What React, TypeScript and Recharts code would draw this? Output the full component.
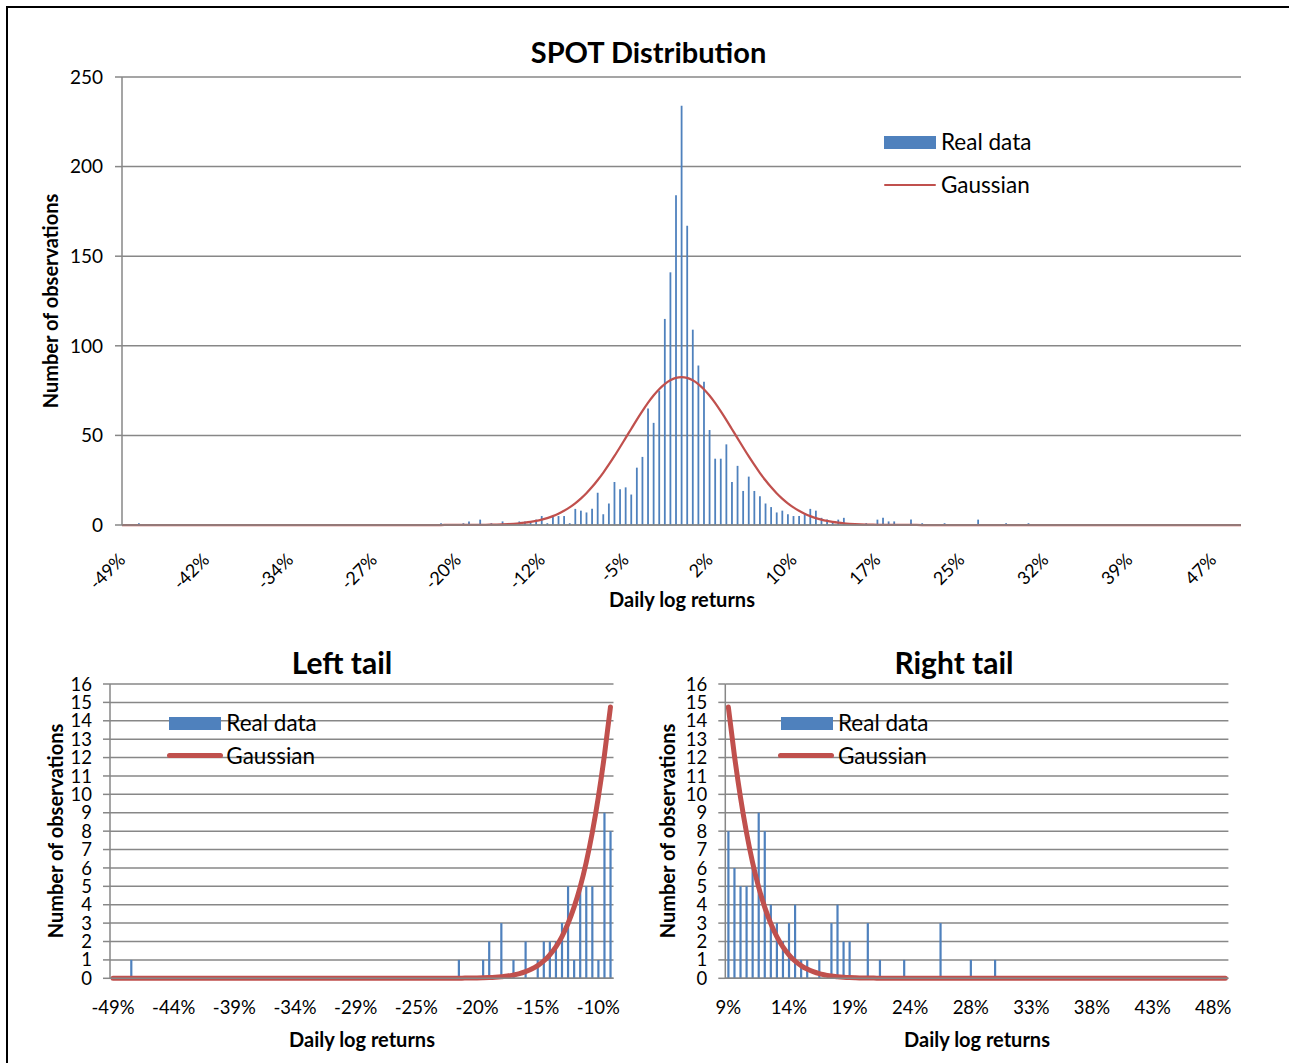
import React from 'react';
import { ComposedChart, Bar, Line, XAxis, YAxis, CartesianGrid, Legend } from 'recharts';

// ---------- data ----------
const mainTickLabels = ['-49%', '-42%', '-34%', '-27%', '-20%', '-12%', '-5%', '2%', '10%', '17%', '25%', '32%', '39%', '47%'];
const leftTickLabels = ['-49%', '-44%', '-39%', '-34%', '-29%', '-25%', '-20%', '-15%', '-10%'];
const rightTickLabels = ['9%', '14%', '19%', '24%', '28%', '33%', '38%', '43%', '48%'];
const mainYTicks = [0, 50, 100, 150, 200, 250];
const tailYTicks = [0, 1, 2, 3, 4, 5, 6, 7, 8, 9, 10, 11, 12, 13, 14, 15, 16];
const seriesNames = ['Real data', 'Gaussian'];

// histogram counts per bin (201 bins)
const realData = [
  0, 0, 0, 1, 0, 0, 0, 0, 0, 0,
  0, 0, 0, 0, 0, 0, 0, 0, 0, 0,
  0, 0, 0, 0, 0, 0, 0, 0, 0, 0,
  0, 0, 0, 0, 0, 0, 0, 0, 0, 0,
  0, 0, 0, 0, 0, 0, 0, 0, 0, 0,
  0, 0, 0, 0, 0, 0, 0, 1, 0, 0,
  0, 1, 2, 0, 3, 0, 1, 0, 2, 0,
  1, 2, 2, 2, 3, 5, 1, 5, 5, 5,
  1, 9, 8, 7, 9, 18, 6, 12, 24, 20,
  21, 17, 32, 38, 65, 57, 75, 115, 141, 184,
  234, 167, 109, 89, 80, 53, 37, 37, 45, 24,
  33, 19, 27, 19, 16, 12, 10, 7, 8, 6,
  5, 5, 6, 9, 8, 4, 3, 2, 3, 4,
  1, 1, 0, 1, 0, 3, 4, 2, 2, 0,
  0, 3, 0, 1, 0, 0, 0, 1, 0, 0,
  0, 0, 0, 3, 0, 0, 0, 0, 1, 0,
  0, 0, 1, 0, 0, 0, 0, 0, 0, 0,
  0, 0, 0, 0, 0, 0, 0, 0, 0, 0,
  0, 0, 0, 0, 0, 0, 0, 0, 0, 0,
  0, 0, 0, 0, 0, 0, 0, 0, 0, 0,
  0,
];

// fitted gaussian per bin (201 bins)
const gaussian = [
  0, 0, 0, 0, 0, 0, 0, 0, 0, 0,
  0, 0, 0, 0, 0, 0, 0, 0, 0, 0,
  0, 0, 0, 0, 0, 0, 0, 0, 0, 0,
  0, 0, 0, 0, 0, 0, 0, 0, 0, 0,
  0, 0, 0, 0, 0, 0, 0, 0, 0, 0,
  0, 0, 0, 0, 0, 0, 0, 0, 0.01, 0.011,
  0.017, 0.026, 0.038, 0.057, 0.084, 0.12, 0.18, 0.25, 0.36, 0.5,
  0.69, 0.94, 1.28, 1.71, 2.27, 2.98, 3.87, 4.96, 6.3, 7.92,
  9.85, 12.12, 14.75, 17.76, 21.16, 24.96, 29.11, 33.63, 38.4, 43.4,
  48.52, 53.57, 58.68, 63.53, 68.12, 72.24, 75.78, 78.65, 80.77, 82.06,
  82.5, 82.06, 80.77, 78.65, 75.78, 72.24, 68.12, 63.53, 58.68, 53.57,
  48.52, 43.4, 38.4, 33.63, 29.11, 24.96, 21.16, 17.76, 14.75, 12.12,
  9.85, 7.92, 6.3, 4.96, 3.87, 2.98, 2.27, 1.71, 1.28, 0.94,
  0.69, 0.5, 0.36, 0.25, 0.18, 0.12, 0.084, 0.057, 0.038, 0.026,
  0.017, 0.011, 0.01, 0, 0, 0, 0, 0, 0, 0,
  0, 0, 0, 0, 0, 0, 0, 0, 0, 0,
  0, 0, 0, 0, 0, 0, 0, 0, 0, 0,
  0, 0, 0, 0, 0, 0, 0, 0, 0, 0,
  0, 0, 0, 0, 0, 0, 0, 0, 0, 0,
  0, 0, 0, 0, 0, 0, 0, 0, 0, 0,
  0,
];

const LEFT_TAIL_BINS = 83; // bins 0..82
const RIGHT_TAIL_START = 118; // bins 118..200
const MAIN_LABEL_STEP = 15;
const TAIL_LABEL_STEP = 10;

// ---------- tables ----------
const mainRows = realData.map((v, i) => ({ i, real: v, gauss: gaussian[i] }));
const leftRows = mainRows.slice(0, LEFT_TAIL_BINS).map((r, k) => ({ ...r, i: k }));
const rightRows = mainRows.slice(RIGHT_TAIL_START).map((r, k) => ({ ...r, i: k }));
const mainXTicks = mainTickLabels.map((_, k) => k * MAIN_LABEL_STEP);
const leftXTicks = leftTickLabels.map((_, k) => k * TAIL_LABEL_STEP);
const rightXTicks = rightTickLabels.map((_, k) => k * TAIL_LABEL_STEP);

// ---------- style ----------
const FONT = 'Lato, "Open Sans", "DejaVu Sans", sans-serif';
const BLUE = '#4F81BD';
const RED = '#C0504D';
const GRID = '#878787';

const Txt = ({ x, y, size, bold, rotate, children }: any) => (
  <div
    style={{
      position: 'absolute',
      left: x,
      top: y,
      transform: `translate(-50%, -50%)${rotate ? ` rotate(${rotate}deg)` : ''}`,
      fontFamily: FONT,
      fontSize: size,
      fontWeight: bold ? 700 : 400,
      lineHeight: 1,
      whiteSpace: 'nowrap',
      color: '#000',
    }}
  >
    {children}
  </div>
);

const makeLegend = (rowGap: number, lineH: number, lineW: number, lineShift: number) => (props: any) => {
  const items = (props.payload || []).slice().sort((a: any, b: any) => (a.type === 'rect' ? -1 : 1) - (b.type === 'rect' ? -1 : 1));
  return (
    <div style={{ fontFamily: FONT, fontSize: 22.5, color: '#000' }}>
      {items.map((it: any, k: number) => (
        <div key={k} style={{ position: 'relative', height: 26, marginTop: k === 0 ? 0 : rowGap }}>
          {it.type === 'rect' ? (
            <span style={{ position: 'absolute', left: 0, top: 6.5, width: 52, height: 13, background: it.color }} />
          ) : (
            <span
              style={{
                position: 'absolute',
                left: lineShift,
                top: 13 - lineH / 2,
                width: lineW,
                height: lineH,
                borderRadius: lineH / 2,
                background: it.color,
              }}
            />
          )}
          <span style={{ position: 'absolute', left: 57, top: 0, lineHeight: '26px', whiteSpace: 'nowrap' }}>{it.value}</span>
        </div>
      ))}
    </div>
  );
};

const MainTick = ({ x, y, payload }: any) => {
  const k = mainXTicks.indexOf(payload.value);
  return (
    <text
      transform={`translate(${x + 4.5},${y + 36}) rotate(-45)`}
      textAnchor="end"
      fontFamily={FONT}
      fontSize={18}
      fill="#000"
    >
      {mainTickLabels[k]}
    </text>
  );
};

const makeTailTick = (ticks: number[], labels: string[]) => ({ x, y, payload }: any) => {
  const k = ticks.indexOf(payload.value);
  return (
    <text x={x} y={y + 28.5} textAnchor="middle" dominantBaseline="central" fontFamily={FONT} fontSize={18.5} fill="#000">
      {labels[k]}
    </text>
  );
};
const LeftTick = makeTailTick(leftXTicks, leftTickLabels);
const RightTick = makeTailTick(rightXTicks, rightTickLabels);

const mainYTickStyle = { fontFamily: FONT, fontSize: 19, fill: '#000' };
const tailYTickStyle = { fontFamily: FONT, fontSize: 18.5, fill: '#000' };

const MainChart = () => (
  <div style={{ position: 'absolute', left: 0, top: 0 }}>
    <ComposedChart width={1289} height={620} data={mainRows} margin={{ top: 77, right: 48, left: 62, bottom: 55 }}>
      <CartesianGrid vertical={false} stroke={GRID} strokeWidth={1.5} />
      <XAxis
        dataKey="i"
        type="number"
        domain={[0, realData.length - 1]}
        allowDataOverflow
        ticks={mainXTicks}
        interval={0}
        height={40}
        tickSize={0}
        tickMargin={0}
        tickLine={false}
        axisLine={{ stroke: GRID, strokeWidth: 1.5 }}
        tick={<MainTick />}
      />
      <YAxis
        type="number"
        domain={[0, 250]}
        ticks={mainYTicks}
        interval={0}
        width={60}
        tickSize={7}
        tickMargin={12}
        axisLine={{ stroke: GRID, strokeWidth: 1.5 }}
        tickLine={{ stroke: GRID, strokeWidth: 1.5 }}
        tick={mainYTickStyle}
      />
      <Bar dataKey="real" name={seriesNames[0]} fill={BLUE} barSize={1.8} isAnimationActive={false} legendType="rect" />
      <Line dataKey="gauss" name={seriesNames[1]} type="monotone" stroke={RED} strokeWidth={2.25} dot={false} activeDot={false} isAnimationActive={false} legendType="line" />
      <Legend
        layout="vertical"
        align="center"
        verticalAlign="middle"
        wrapperStyle={{ left: 884, top: 129, width: 220, height: 'auto' }}
        content={makeLegend(17, 2, 52, 0)}
      />
    </ComposedChart>
  </div>
);

const TailChart = ({ left, width, rows, ticks, tickComp, marginLeft, marginRight, legendLeft }: any) => (
  <div style={{ position: 'absolute', left, top: 640 }}>
    <ComposedChart width={width} height={423} data={rows} margin={{ top: 44, right: marginRight, left: marginLeft, bottom: 44.7 }}>
      <CartesianGrid vertical={false} stroke={GRID} strokeWidth={1.5} />
      <XAxis
        dataKey="i"
        type="number"
        domain={[-0.5, rows.length - 0.5]}
        allowDataOverflow
        ticks={ticks}
        interval={0}
        height={40}
        tickSize={0}
        tickMargin={0}
        tickLine={false}
        axisLine={{ stroke: GRID, strokeWidth: 1.5 }}
        tick={tickComp}
      />
      <YAxis
        type="number"
        domain={[0, 16]}
        ticks={tailYTicks}
        interval={0}
        width={60}
        tickSize={7}
        tickMargin={11}
        axisLine={{ stroke: GRID, strokeWidth: 1.5 }}
        tickLine={{ stroke: GRID, strokeWidth: 1.5 }}
        tick={tailYTickStyle}
      />
      <Bar dataKey="real" name={seriesNames[0]} fill={BLUE} barSize={2.2} isAnimationActive={false} legendType="rect" />
      <Line dataKey="gauss" name={seriesNames[1]} type="monotone" stroke={RED} strokeWidth={5} strokeLinecap="round" dot={false} activeDot={false} isAnimationActive={false} legendType="line" />
      <Legend
        layout="vertical"
        align="center"
        verticalAlign="middle"
        wrapperStyle={{ left: legendLeft, top: 70.3, width: 220, height: 'auto' }}
        content={makeLegend(6.7, 5, 56, -2.6)}
      />
    </ComposedChart>
  </div>
);

export default function App() {
  return (
    <div style={{ position: 'absolute', left: 0, top: 0, width: 1289, height: 1063, overflow: 'hidden', background: '#fff' }}>
      <div style={{ position: 'absolute', left: 6, top: 6, width: 1320, height: 1100, border: '2px solid #000' }} />
      <MainChart />
      <TailChart
        left={0}
        width={640}
        rows={leftRows}
        ticks={leftXTicks}
        tickComp={<LeftTick />}
        marginLeft={50}
        marginRight={26.5}
        legendLeft={169.3}
      />
      <TailChart
        left={640}
        width={649}
        rows={rightRows}
        ticks={rightXTicks}
        tickComp={<RightTick />}
        marginLeft={25.3}
        marginRight={60.6}
        legendLeft={141}
      />
      <Txt x={648.5} y={50.5} size={29} bold>SPOT Distribution</Txt>
      <Txt x={50} y={301} size={20} bold rotate={-90}>Number of observations</Txt>
      <Txt x={682} y={599} size={20} bold>Daily log returns</Txt>
      <Txt x={342} y={661.5} size={30} bold>Left tail</Txt>
      <Txt x={954} y={661.5} size={30} bold>Right tail</Txt>
      <Txt x={55} y={831} size={20} bold rotate={-90}>Number of observations</Txt>
      <Txt x={667} y={831} size={20} bold rotate={-90}>Number of observations</Txt>
      <Txt x={362} y={1039} size={20} bold>Daily log returns</Txt>
      <Txt x={977} y={1039} size={20} bold>Daily log returns</Txt>
    </div>
  );
}
